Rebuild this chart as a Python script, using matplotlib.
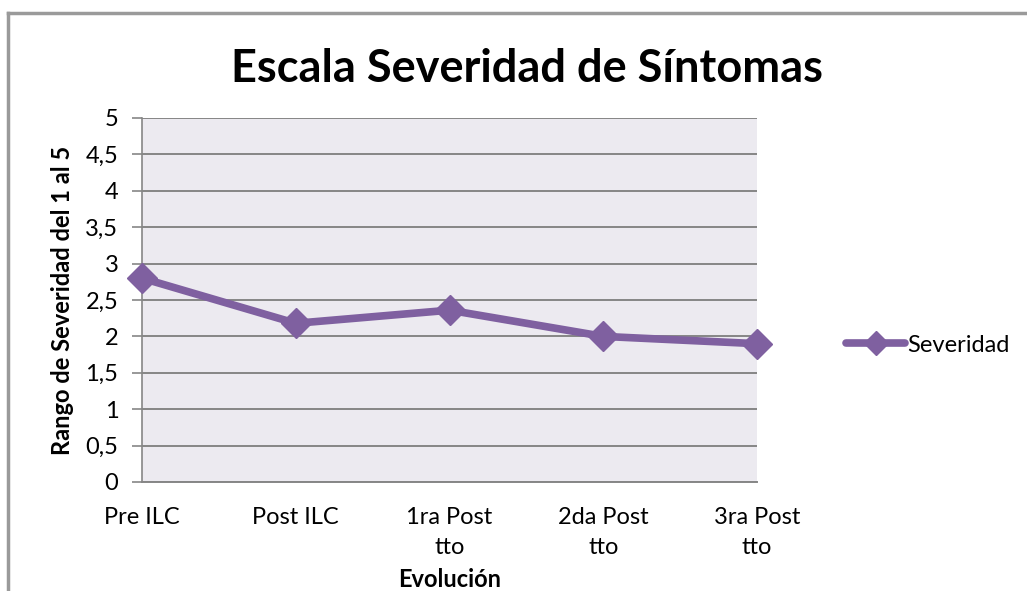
import matplotlib.pyplot as plt
from matplotlib.lines import Line2D

categorias = ['Pre ILC', 'Post ILC', '1ra Post\ntto', '2da Post\ntto', '3ra Post\ntto']
severidad = [2.8, 2.18, 2.36, 2.0, 1.9]
yticks = [0, 0.5, 1, 1.5, 2, 2.5, 3, 3.5, 4, 4.5, 5]
ytick_labels = ['0', '0,5', '1', '1,5', '2', '2,5', '3', '3,5', '4', '4,5', '5']

plt.rcParams['font.family'] = ['Lato', 'DejaVu Sans']

fig = plt.figure(figsize=(10.27, 5.91), dpi=100)
ax = fig.add_axes([142/1027, 109/591, 615/1027, 364/591])

gris = '#868686'
morado = '#7F60A0'

ax.set_facecolor('#ECEAF0')
x = list(range(len(categorias)))
ax.plot(x, severidad, color=morado, lw=5.5, marker='D', markersize=15,
        label='Severidad', solid_capstyle='round', clip_on=False, zorder=3)

ax.set_xlim(0, len(categorias) - 1)
ax.set_ylim(0, 5)
ax.set_yticks(yticks)
ax.set_yticklabels(ytick_labels, fontsize=17)
ax.set_xticks(x)
ax.set_xticklabels(categorias, fontsize=17, linespacing=1.55, va='top')
ax.tick_params(axis='x', length=0, pad=18)
ax.tick_params(axis='y', length=7, color=gris, width=1.2, pad=10)
ax.yaxis.grid(True, color=gris, lw=1.4)
ax.set_axisbelow(True)

for s in ['top', 'right']:
    ax.spines[s].set_visible(False)
ax.spines['left'].set_color(gris)
ax.spines['left'].set_linewidth(1.2)
ax.spines['bottom'].set_color(gris)
ax.spines['bottom'].set_linewidth(1.4)

ax.set_ylabel('Rango de Severidad del 1 al 5', fontsize=17, fontweight='bold', labelpad=8)
ax.set_xlabel('Evolución', fontsize=17, fontweight='bold', labelpad=7)

fig.text(527/1027, 1 - 69/591, 'Escala Severidad de Síntomas', fontsize=32.5,
         fontweight='bold', ha='center', va='center')

leg = ax.legend(loc='center left', bbox_to_anchor=(846/1027, 1 - 345/591),
                bbox_transform=fig.transFigure, frameon=False, fontsize=17,
                handlelength=2.5, handletextpad=0.1, borderpad=0, borderaxespad=0,
                markerscale=0.8)

# marco del gráfico
fig.add_artist(Line2D([8/1027, 8/1027], [0, 1 - 13/591], color='#9A9A9A', lw=2.5))
fig.add_artist(Line2D([8/1027, 1], [1 - 13/591, 1 - 13/591], color='#9A9A9A', lw=2.5))

fig.savefig('out.png', dpi=100)
